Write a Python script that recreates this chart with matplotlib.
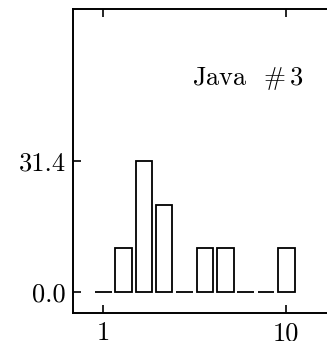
import matplotlib
matplotlib.use('Agg')
import numpy as np
import matplotlib.pyplot as plt
from matplotlib.ticker import FixedLocator, NullLocator

# bin centres (log spaced) and bar heights
bin_centers = [1.0, 1.29, 1.67, 2.15, 2.78, 3.59, 4.64, 5.99, 7.74, 10.0]
heights = [0.0, 10.47, 31.4, 20.93, 0.0, 10.47, 10.47, 0.0, 0.0, 10.47]
yticks = [0.0, 31.4]
ytick_labels = ['0.0', '31.4']
xticks = [1, 10]
xtick_labels = ['1', '10']
label = r'Java  $\#\,3$'

plt.rcParams['font.family'] = 'serif'
plt.rcParams['font.serif'] = ['cmr10']
plt.rcParams['mathtext.fontset'] = 'cm'
plt.rcParams['axes.unicode_minus'] = False

fig = plt.figure(figsize=(3.27, 3.41), dpi=100)
ax = fig.add_axes([0.2242, 0.0812, 0.8156, 0.8924])

ax.set_xscale('log')
half = 10 ** 0.045
lefts = [c / half for c in bin_centers]
widths = [c * half - c / half for c in bin_centers]
ax.bar(lefts, heights, width=widths, align='edge',
       facecolor='none', edgecolor='black', linewidth=1.3)

ax.set_xlim(0.6855, 19.65)
ax.set_ylim(-5.01, 67.6)

ax.xaxis.set_major_locator(FixedLocator(xticks))
ax.xaxis.set_minor_locator(NullLocator())
ax.set_xticklabels(xtick_labels)
ax.set_yticks(yticks)
ax.set_yticklabels(ytick_labels)

ax.tick_params(axis='both', which='major', direction='in', length=5.7,
               width=1.2, labelsize=19, top=True, right=True)
ax.tick_params(axis='x', pad=6)
ax.tick_params(axis='y', pad=5.5)
for s in ax.spines.values():
    s.set_linewidth(1.4)

ax.text(247.5 / 327, 1 - 79 / 341, label, transform=fig.transFigure,
        ha='center', va='center', fontsize=19)

fig.savefig('out.png', dpi=100)
